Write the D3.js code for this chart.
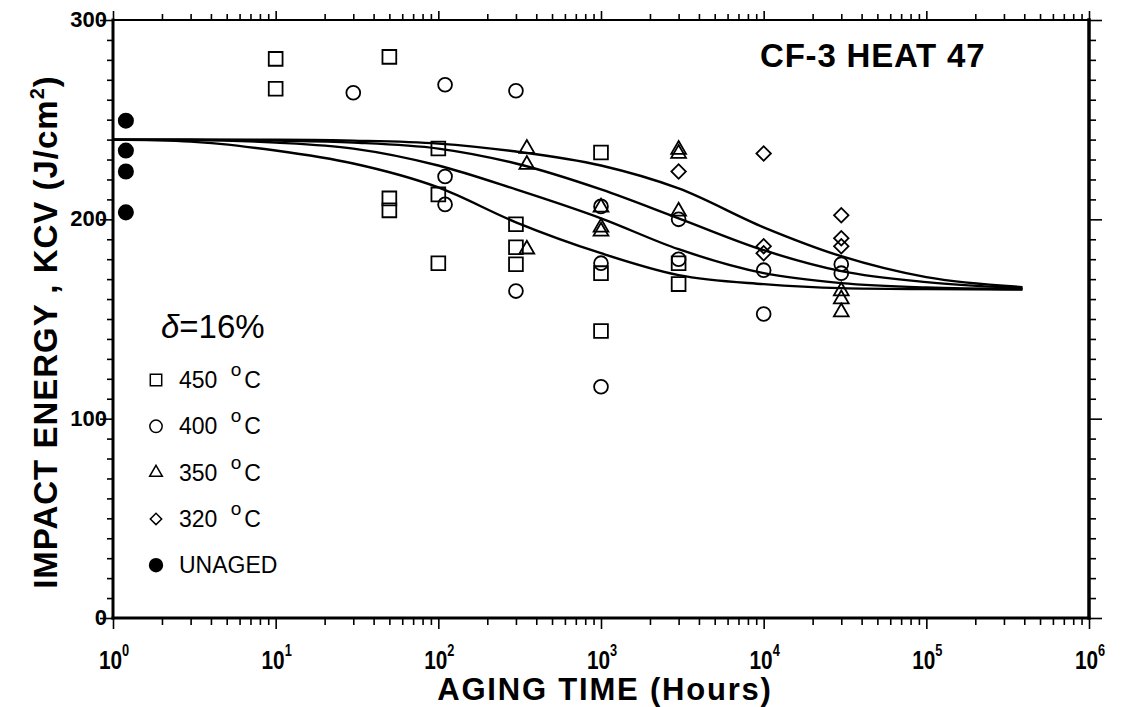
<!DOCTYPE html>
<html>
<head>
<meta charset="utf-8">
<script src="https://cdn.jsdelivr.net/npm/d3@7"></script>
<style>
  body { margin: 0; background: #fff; }
  svg { display: block; font-family: "Liberation Sans", Arial, sans-serif; }
</style>
</head>
<body>
<div id="chart"></div>
<script>
// fitted curves (hours, KCV)
const curveTimes = [1, 3, 10, 30, 100, 300, 1000, 3000, 10000, 30000, 100000, 390000];
const curve450 = [240, 239, 234.5, 228, 216, 198.5, 183, 172, 167.5, 165.5, 165, 164.8];
const curve400 = [240, 239.8, 238.5, 235.5, 227, 215, 200.5, 185, 173, 168, 165.8, 165];
const curve350 = [240, 240, 239.5, 238.5, 235.5, 228, 215, 200.5, 184.5, 174, 168.5, 165.5];
const curve320 = [240, 240, 240, 239.5, 238, 234, 227, 215.5, 196, 181.5, 171, 166];

// measured points [hours, KCV]
const pts450 = [[10, 280.5], [10, 265.5], [50, 281.5], [50, 210.5], [50, 204.5],
  [100, 235.5], [100, 212.5], [100, 178], [300, 197.5], [300, 186], [300, 177.5],
  [1000, 233.5], [1000, 173], [1000, 144], [3000, 178], [3000, 167.5]];
const pts400 = [[30, 263.5], [110, 267.5], [110, 221.5], [110, 207.5], [300, 264.5], [300, 164],
  [1000, 206.5], [1000, 178], [1000, 116], [3000, 200], [3000, 180],
  [10000, 174.5], [10000, 152.5], [30000, 177.5], [30000, 173]];
const pts350 = [[350, 235.5], [350, 227.5], [350, 185], [1000, 206], [1000, 196], [1000, 194],
  [3000, 235], [3000, 233], [3000, 204], [30000, 164], [30000, 160], [30000, 153.5]];
const pts320 = [[3000, 224], [10000, 233], [10000, 186.5], [10000, 183],
  [30000, 202], [30000, 190.5], [30000, 186.5]];
const ptsUnaged = [[1.2, 249.5], [1.2, 234.5], [1.2, 224], [1.2, 203.5]];

const yTicks = [0, 100, 200, 300];
const xDecades = [0, 1, 2, 3, 4, 5, 6];
const legendLabels = ['450', '400', '350', '320', 'UNAGED'];

// scales
const x = d3.scaleLog().domain([1, 1e6]).range([113, 1089]);
const y = d3.scaleLinear().domain([0, 300]).range([618, 20]);

const svg = d3.select('#chart').append('svg')
  .attr('width', 1122)
  .attr('height', 707);

// minor tick values
const xMajor = xDecades.map(d => Math.pow(10, d));
const xMinor = [];
xDecades.slice(0, -1).forEach(d => {
  for (let k = 2; k <= 9; k++) xMinor.push(k * Math.pow(10, d));
});
const yMinor = d3.range(0, 301, 10).filter(v => v % 100 !== 0);

function tickAxis(axis, values, size, transform) {
  const g = svg.append('g')
    .attr('transform', transform)
    .call(axis.tickValues(values).tickSize(size).tickFormat(''));
  g.select('.domain').remove();
  g.selectAll('.tick line').attr('stroke', '#000').attr('stroke-width', 1.6);
  return g;
}

// ticks all around, pointing out
tickAxis(d3.axisBottom(x), xMajor, 11, 'translate(0,618)');
tickAxis(d3.axisBottom(x), xMinor, 7, 'translate(0,618)');
tickAxis(d3.axisTop(x), xMajor, 9, 'translate(0,20)');
tickAxis(d3.axisTop(x), xMinor, 6, 'translate(0,20)');
tickAxis(d3.axisLeft(y), yTicks, 13, 'translate(113,0)');
tickAxis(d3.axisLeft(y), yMinor, 6, 'translate(113,0)');
tickAxis(d3.axisRight(y), yTicks, 13, 'translate(1089,0)');
tickAxis(d3.axisRight(y), yMinor, 7, 'translate(1089,0)');

// frame
const frame = svg.append('g').attr('stroke', '#000').attr('stroke-linecap', 'square');
frame.append('line').attr('x1', x(1)).attr('x2', x(1e6)).attr('y1', y(300)).attr('y2', y(300)).attr('stroke-width', 2);
frame.append('line').attr('x1', x(1)).attr('x2', x(1e6)).attr('y1', y(0)).attr('y2', y(0)).attr('stroke-width', 3);
frame.append('line').attr('x1', x(1)).attr('x2', x(1)).attr('y1', y(0)).attr('y2', y(300)).attr('stroke-width', 3);
frame.append('line').attr('x1', x(1e6)).attr('x2', x(1e6)).attr('y1', y(0)).attr('y2', y(300)).attr('stroke-width', 3.5);

// y tick labels
svg.append('g').selectAll('text')
  .data(yTicks)
  .join('text')
  .attr('x', 107)
  .attr('y', d => y(d) + 7)
  .attr('text-anchor', 'end')
  .attr('font-size', 22)
  .attr('font-weight', 'bold')
  .text(d => d);

// x tick labels 10^n, squeezed a little like the original lettering
const xl = svg.append('g').selectAll('text')
  .data(xDecades)
  .join('text')
  .attr('transform', d => `translate(${x(Math.pow(10, d)) + 1},669) scale(0.8,1)`)
  .attr('text-anchor', 'middle')
  .attr('font-size', 26)
  .attr('font-weight', 'bold');
xl.append('tspan').text('10');
xl.append('tspan').attr('dy', -13).attr('font-size', 16).text(d => d);

// axis titles
svg.append('text')
  .attr('x', 605)
  .attr('y', 700)
  .attr('text-anchor', 'middle')
  .attr('font-size', 31)
  .attr('font-weight', 'bold')
  .attr('letter-spacing', 1.8)
  .text('AGING TIME (Hours)');

const yt = svg.append('text')
  .attr('transform', 'translate(57,332) rotate(-90)')
  .attr('text-anchor', 'middle')
  .attr('font-size', 33)
  .attr('font-weight', 'bold')
  .attr('letter-spacing', 1);
yt.append('tspan').text('IMPACT ENERGY , KCV (J/cm');
yt.append('tspan').attr('dy', -13).attr('font-size', 20).text('2');
yt.append('tspan').attr('dy', 13).text(')');

svg.append('text')
  .attr('x', 760)
  .attr('y', 67)
  .attr('font-size', 33)
  .attr('font-weight', 'bold')
  .attr('letter-spacing', 0.8)
  .text('CF-3 HEAT 47');

// fitted curves
const line = d3.line()
  .x(d => x(d[0]))
  .y(d => y(d[1]))
  .curve(d3.curveMonotoneX);
[curve450, curve400, curve350, curve320].forEach(c => {
  svg.append('path')
    .datum(curveTimes.map((t, i) => [t, c[i]]))
    .attr('d', line)
    .attr('fill', 'none')
    .attr('stroke', '#000')
    .attr('stroke-width', 2.4);
});

// marker shapes
const shapes = {
  square: d3.symbol(d3.symbolSquare, 190),
  circle: d3.symbol(d3.symbolCircle, 150),
  triangle: d3.symbol(d3.symbolTriangle, 95),
  diamond: d3.symbol(d3.symbolSquare, 105),
  dot: d3.symbol(d3.symbolCircle, 160)
};

function drawPoints(data, shape) {
  svg.append('g').selectAll('path')
    .data(data)
    .join('path')
    .attr('d', shapes[shape])
    .attr('transform', d => `translate(${x(d[0])},${y(d[1])})` + (shape === 'diamond' ? ' rotate(45)' : ''))
    .attr('fill', shape === 'dot' ? '#000' : 'none')
    .attr('stroke', '#000')
    .attr('stroke-width', 1.8);
}
drawPoints(pts450, 'square');
drawPoints(pts400, 'circle');
drawPoints(pts350, 'triangle');
drawPoints(pts320, 'diamond');
drawPoints(ptsUnaged, 'dot');

// legend
const delta = svg.append('text')
  .attr('x', 161)
  .attr('y', 338)
  .attr('font-size', 33);
delta.append('tspan').attr('font-style', 'italic').text('δ');
delta.append('tspan').text('=16%');

const legendShapes = ['square', 'circle', 'triangle', 'diamond', 'dot'];
const legendSym = {
  square: d3.symbol(d3.symbolSquare, 130),
  circle: d3.symbol(d3.symbolCircle, 120),
  triangle: d3.symbol(d3.symbolTriangle, 70),
  diamond: d3.symbol(d3.symbolSquare, 65),
  dot: d3.symbol(d3.symbolCircle, 130)
};
const legend = svg.append('g').selectAll('g')
  .data(legendLabels)
  .join('g')
  .attr('transform', (d, i) => `translate(156,${380 + i * 46.3})`);
legend.append('path')
  .attr('d', (d, i) => legendSym[legendShapes[i]]())
  .attr('transform', (d, i) => legendShapes[i] === 'diamond' ? 'rotate(45)' : null)
  .attr('fill', (d, i) => legendShapes[i] === 'dot' ? '#000' : 'none')
  .attr('stroke', '#000')
  .attr('stroke-width', 1.5);
const lt = legend.append('text')
  .attr('x', 23)
  .attr('y', 8)
  .attr('font-size', 23);
lt.append('tspan').text(d => d === 'UNAGED' ? d : d + ' ');
lt.filter(d => d !== 'UNAGED').append('tspan').attr('dy', -12).attr('dx', 7).attr('font-size', 19).text('o');
lt.filter(d => d !== 'UNAGED').append('tspan').attr('dy', 12).attr('dx', 3).text('C');
</script>
</body>
</html>
